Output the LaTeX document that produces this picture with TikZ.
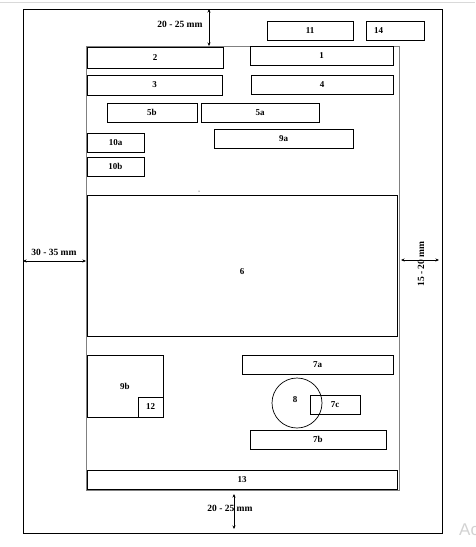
\documentclass[tikz,border=0pt]{standalone}
\usepackage{fontspec}
\setmainfont{Liberation Serif}
\setsansfont{Liberation Sans}
\usetikzlibrary{arrows.meta}

\begin{document}
\begin{tikzpicture}[x=1pt, y=-1pt,
        field/.style={shape=rectangle, draw, line width=0.7pt, inner sep=0pt,
            font=\fontsize{9}{10}\selectfont\bfseries},
        dim/.style={line width=0.8pt,
            {Stealth[length=3.5pt,width=3pt]}-{Stealth[length=3.5pt,width=3pt]}},
        dimtext/.style={font=\fontsize{9.5}{11}\selectfont\bfseries, inner sep=1pt}]
        \useasboundingbox (0,0) rectangle (475,547);
        \draw[gray!30, line width=0.8pt] (0,2) -- (475,2);
        % page and margins
        \node[shape=rectangle, draw, line width=0.9pt, minimum width=419, minimum height=524] (page) at (232.5,271) {};
        \node[shape=rectangle, draw=gray, line width=0.6pt, minimum width=313, minimum height=444] (margin) at (242.5,268) {};
        % fields
        \node[field, minimum width=86, minimum height=19] (f11) at (310,30.5) {11};
        \node[field, minimum width=58, minimum height=19, text width=42, align=left] (f14) at (395,30.5) {14};
        \node[field, minimum width=136, minimum height=21] (f2) at (155,57.5) {2};
        \node[field, minimum width=143, minimum height=19] (f1) at (321.5,55.5) {1};
        \node[field, minimum width=135, minimum height=20] (f3) at (154.5,85) {3};
        \node[field, minimum width=142, minimum height=19] (f4) at (322,84.5) {4};
        \node[field, minimum width=90, minimum height=19] (f5b) at (152,112.5) {5b};
        \node[field, minimum width=118, minimum height=19] (f5a) at (260,112.5) {5a};
        \node[field, minimum width=139, minimum height=19] (f9a) at (283.5,138.5) {9a};
        \node[field, minimum width=57, minimum height=19] (f10a) at (115.5,142.5) {10a};
        \node[field, minimum width=57, minimum height=19] (f10b) at (115.5,166.5) {10b};
        \node[field, minimum width=310, minimum height=141] (f6) at (242,265.5) {};
        \node[font=\fontsize{9}{10}\selectfont\bfseries] (l6) at (242,272) {6};
        \node[field, minimum width=76, minimum height=62] (f9b) at (125,386) {9b};
        \node[field, minimum width=25, minimum height=20] (f12) at (150.5,407) {12};
        \node[field, minimum width=151, minimum height=19] (f7a) at (317.5,364.5) {7a};
        \node[field, shape=circle, minimum size=50] (f8) at (297,403) {};
        \node[font=\fontsize{9}{10}\selectfont\bfseries] (l8) at (295,400) {8};
        \node[field, minimum width=50, minimum height=19] (f7c) at (335,404.5) {7c};
        \node[field, minimum width=136, minimum height=19] (f7b) at (318,439.5) {7b};
        \node[field, minimum width=310, minimum height=19] (f13) at (242,479.5) {13};
        \fill (199,191) circle (0.5);
        % dimensions
        \coordinate (top1) at (209,9);
        \coordinate (top2) at (209,46);
        \coordinate (left1) at (23,261);
        \coordinate (left2) at (86,261);
        \coordinate (right1) at (401,260);
        \coordinate (right2) at (439,260);
        \coordinate (bot1) at (234,494);
        \coordinate (bot2) at (234,529);
        \draw[dim] (top1) -- (top2);
        \draw[dim] (left1) -- (left2);
        \draw[dim] (right1) -- (right2);
        \draw[dim] (bot1) -- (bot2);
        \node[dimtext] (dtop) at (180,24) {20 - 25 mm};
        \node[dimtext] (dleft) at (54,252) {30 - 35 mm};
        \node[dimtext, rotate=90] (dright) at (421,264) {15 - 20 mm};
        \node[dimtext] (dbot) at (230,508) {20 - 25 mm};
        \node[text=gray!35, font=\sffamily\fontsize{17}{19}\selectfont, anchor=west, inner sep=0pt] (wm) at (459,530) {Ac};
    \end{tikzpicture}
\end{document}
